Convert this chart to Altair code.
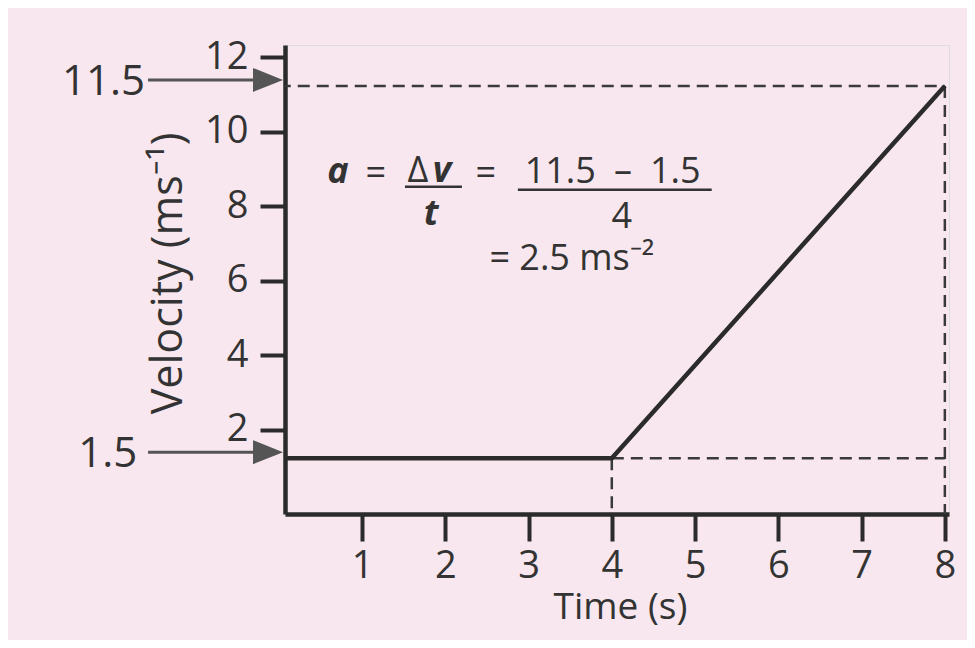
import altair as alt
import pandas as pd

# ---- data ----
time_s = [0, 4, 8]
velocity = [1.5, 1.5, 11.5]
x_ticks = [1, 2, 3, 4, 5, 6, 7, 8]
y_ticks = [2, 4, 6, 8, 10, 12]

marked_v = [11.5, 1.5]
marked_labels = ["11.5", "1.5"]

# dashed guide segments (from, to)
guide_x = [0, 8, 4, 4]
guide_x2 = [8, 8, 8, 4]
guide_y = [11.5, 11.5, 1.5, 1.5]
guide_y2 = [11.5, 0, 1.5, 0]

# formula pieces (text, x, y in data units)
bi_text = ["a", "v", "t"]
bi_x = [0.711, 1.96, 1.83]
bi_y = [8.90, 8.92, 7.77]

reg_text = ["=", "Δ", "=", "11.5\u2002–\u20021.5", "4", "= 2.5 ms⁻²"]
reg_x = [1.167, 1.672, 2.488, 4.01, 4.12, 3.52]
reg_y = [8.84, 8.92, 8.84, 8.88, 7.69, 6.56]

frac_x = [1.516, 2.872]
frac_x2 = [2.20, 5.20]
frac_y = [8.79, 8.71]

# arrow extents (data units, left of the axis)
arrow_x = [-1.57, -1.57]
arrow_x2 = [-0.285, -0.285]
arrow_head_x = [-0.129, -0.129]
label_x = [-1.606, -1.70]

INK = "#2b2b2b"
FONT = "Open Sans"

line_df = pd.DataFrame({"t": time_s, "v": velocity})
guide_df = pd.DataFrame({"x": guide_x, "x2": guide_x2, "y": guide_y, "y2": guide_y2})
bi_df = pd.DataFrame({"text": bi_text, "x": bi_x, "y": bi_y})
reg_df = pd.DataFrame({"text": reg_text, "x": reg_x, "y": reg_y})
frac_df = pd.DataFrame({"x": frac_x, "x2": frac_x2, "y": frac_y})
arrow_df = pd.DataFrame({"x": arrow_x, "x2": arrow_x2, "hx": arrow_head_x,
                         "lx": label_x, "v": marked_v, "label": marked_labels})

xs = alt.Scale(domain=[0.075, 8.05], nice=False, zero=False)
ys = alt.Scale(domain=[0, 12.6], nice=False, zero=False)

x_axis = alt.Axis(values=x_ticks, format="d", title="Time (s)", grid=False, labelFlush=False,
                  labelFontSize=38, labelFont=FONT, labelColor="#333", labelPadding=6,
                  tickSize=27, tickWidth=4, tickColor=INK,
                  domainWidth=4.5, domainColor=INK,
                  titleFont=FONT, titleFontSize=37, titleFontWeight="normal", titleColor="#333",
                  titleX=335, titleY=104, titleBaseline="alphabetic", titleAlign="center")
y_axis = alt.Axis(values=y_ticks, format="d", title="Velocity (ms⁻¹)", grid=False, tickOffset=-10,
                  labelFontSize=38, labelFont=FONT, labelColor="#333", labelPadding=12,
                  tickSize=25, tickWidth=4, tickColor=INK,
                  domainWidth=4.5, domainColor=INK,
                  titleFont=FONT, titleFontSize=43, titleFontWeight="normal", titleColor="#333",
                  titleX=-104, titleY=228, titleBaseline="alphabetic", titleAlign="center",
                  titleAngle=270)

line = alt.Chart(line_df).mark_line(color=INK, strokeWidth=4.5, clip=True).encode(
    x=alt.X("t:Q", scale=xs, axis=x_axis),
    y=alt.Y("v:Q", scale=ys, axis=y_axis),
)

guides = alt.Chart(guide_df).mark_rule(color="#3a3a3a", strokeWidth=2.5,
                                       strokeDash=[12, 7], clip=True).encode(
    x=alt.X("x:Q", scale=xs), x2="x2:Q",
    y=alt.Y("y:Q", scale=ys), y2="y2:Q",
)

arrow_shaft = alt.Chart(arrow_df).mark_rule(color="#555", strokeWidth=3, yOffset=-6).encode(
    x=alt.X("x:Q", scale=xs), x2="x2:Q", y=alt.Y("v:Q", scale=ys),
)
arrow_head = alt.Chart(arrow_df).mark_point(shape="M-1,-0.8L1,0L-1,0.8Z", size=900,
                                            filled=True, color="#555", opacity=1,
                                            yOffset=-6).encode(
    x=alt.X("hx:Q", scale=xs), y=alt.Y("v:Q", scale=ys),
)
arrow_label = alt.Chart(arrow_df).mark_text(font=FONT, fontSize=42, color="#333",
                                            align="right", baseline="middle",
                                            yOffset=-4).encode(
    x=alt.X("lx:Q", scale=xs), y=alt.Y("v:Q", scale=ys), text="label:N",
)

formula_bi = alt.Chart(bi_df).mark_text(font=FONT, fontSize=36, fontWeight="bold",
                                        fontStyle="italic", color="#333",
                                        align="center", baseline="alphabetic").encode(
    x=alt.X("x:Q", scale=xs), y=alt.Y("y:Q", scale=ys), text="text:N",
)
formula_reg = alt.Chart(reg_df).mark_text(font=FONT, fontSize=36, color="#333",
                                          align="center", baseline="alphabetic").encode(
    x=alt.X("x:Q", scale=xs), y=alt.Y("y:Q", scale=ys), text="text:N",
)
frac_lines = alt.Chart(frac_df).mark_rule(color="#333", strokeWidth=2.5).encode(
    x=alt.X("x:Q", scale=xs), x2="x2:Q", y=alt.Y("y:Q", scale=ys),
)

chart = alt.layer(guides, line, arrow_shaft, arrow_head, arrow_label,
                  formula_bi, formula_reg, frac_lines).properties(
    width=664, height=469,
    padding={"left": 277, "top": 37, "right": 18, "bottom": 126},
    autosize=alt.AutoSizeParams(type="none"),
).configure_view(strokeWidth=0).configure(background="#f8e7ef")

chart.save("out.html", embed_options={"renderer": "svg", "actions": False})
